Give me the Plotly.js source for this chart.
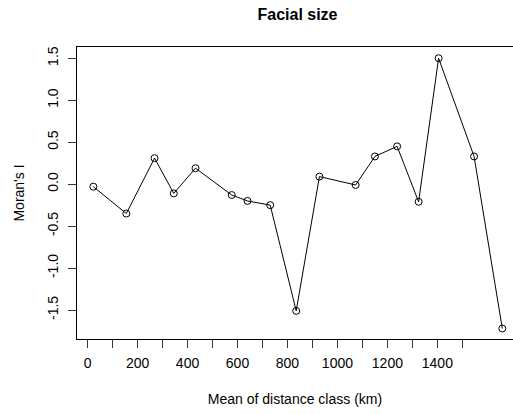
<!DOCTYPE html>
<html>
<head>
<meta charset="utf-8">
<script src="https://cdn.plot.ly/plotly-3.0.1.min.js"></script>
<style>html,body{margin:0;padding:0;background:#fff;}#chart{width:513px;height:414px;}</style>
</head>
<body>
<div id="chart"></div>
<script>
const distanceKm = [23, 155, 268, 345, 432, 577, 640, 731, 835, 928, 1073, 1150, 1239, 1325, 1405, 1547, 1660];
const moransI = [-0.03, -0.35, 0.31, -0.11, 0.19, -0.13, -0.20, -0.25, -1.51, 0.09, -0.01, 0.33, 0.45, -0.21, 1.50, 0.33, -1.72];
const xTickVals = [0, 100, 200, 300, 400, 500, 600, 700, 800, 900, 1000, 1100, 1200, 1300, 1400, 1500];
const xTickText = ['0', '', '200', '', '400', '', '600', '', '800', '', '1000', '', '1200', '', '1400', ''];
const yTickVals = [-1.5, -1.0, -0.5, 0.0, 0.5, 1.0, 1.5];
const yTickText = ['-1.5', '-1.0', '-0.5', '0.0', '0.5', '1.0', '1.5'];
const chartTitle = 'Facial size';
const xTitle = 'Mean of distance class (km)';
const yTitle = "Moran's I";

const font = 'Liberation Sans, Arial, Helvetica, sans-serif';

const trace = {
  x: distanceKm,
  y: moransI,
  type: 'scatter',
  mode: 'lines+markers',
  line: {color: '#000', width: 1},
  marker: {symbol: 'circle-open', size: 7, color: '#000', line: {width: 1, color: '#000'}},
  cliponaxis: false,
  hoverinfo: 'skip'
};

const layout = {
  width: 513,
  height: 414,
  margin: {l: 76.7, r: 0, t: 47, b: 75, pad: 0},
  paper_bgcolor: '#fff',
  plot_bgcolor: '#fff',
  showlegend: false,
  font: {family: font, size: 14, color: '#000'},
  title: {
    text: '<b>' + chartTitle + '</b>',
    font: {family: font, size: 16, color: '#000'},
    xref: 'container', x: 297.5 / 513, xanchor: 'center',
    yref: 'container', y: 1 - 14.5 / 414, yanchor: 'middle'
  },
  xaxis: {
    range: [-42.4, 1702.8],
    tickmode: 'array', tickvals: xTickVals, ticktext: xTickText,
    ticks: 'outside', ticklen: 8, tickwidth: 1, tickcolor: '#333',
    showline: true, linecolor: '#000', linewidth: 1, mirror: true,
    showgrid: false, zeroline: false,
    tickfont: {family: font, size: 14, color: '#000'},
    ticklabelstandoff: 3,
    title: {text: xTitle, font: {family: font, size: 14, color: '#000'}, standoff: 24},
    automargin: false
  },
  yaxis: {
    range: [-1.845, 1.634],
    tickmode: 'array', tickvals: yTickVals, ticktext: yTickText,
    ticks: 'outside', ticklen: 8, tickwidth: 1, tickcolor: '#333',
    tickangle: -90,
    showline: true, linecolor: '#000', linewidth: 1, mirror: false,
    showgrid: false, zeroline: false,
    tickfont: {family: font, size: 14, color: '#000'},
    ticklabelstandoff: 4,
    title: {text: yTitle, font: {family: font, size: 14, color: '#000'}, standoff: 17},
    automargin: false
  }
};

Plotly.newPlot('chart', [trace], layout, {displayModeBar: false, staticPlot: true});
</script>
</body>
</html>
